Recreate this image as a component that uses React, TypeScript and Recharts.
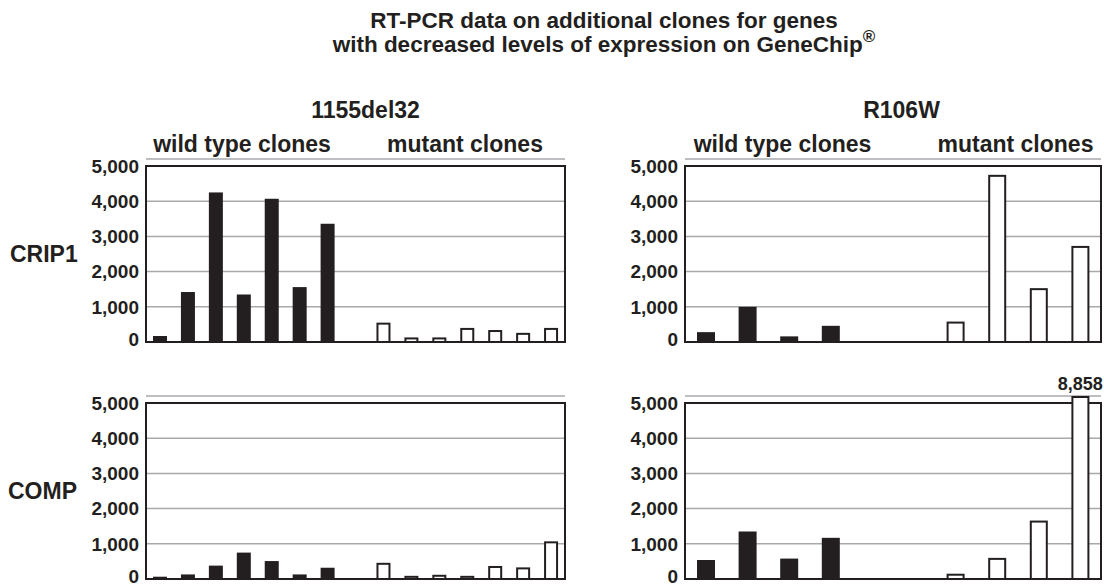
import React from 'react';
import { BarChart, Bar, XAxis, YAxis, CartesianGrid, ReferenceArea, ReferenceDot } from 'recharts';

// ---- data ----
const crip1DelWild = [170, 1420, 4250, 1350, 4070, 1560, 3360];
const crip1DelMutant = [550, 130, 130, 400, 340, 260, 400];
const crip1R106WWild = [280, 1000, 160, 460];
const crip1R106WMutant = [580, 4750, 1530, 2730];
const compDelWild = [65, 130, 380, 750, 510, 130, 320];
const compDelMutant = [460, 90, 120, 90, 370, 330, 1070];
const compR106WWild = [540, 1350, 580, 1170];
const compR106WMutant = [150, 600, 1660, 8858];

const yTicks = [0, 1000, 2000, 3000, 4000, 5000];
const AXIS_MAX = 5000;
const DOMAIN_TOP = 5200;

const INK = '#231f20';
const GRID = '#a7a9ac';
const FONT = '"Liberation Sans", Arial, Helvetica, sans-serif';

type Row = { slot: string; value: number | null; group: string };

function buildRows(wild: number[], mutant: number[], gaps: number): Row[] {
  const rows: Row[] = [];
  wild.forEach((v, i) => rows.push({ slot: 'w' + i, value: v, group: 'wild' }));
  for (let g = 0; g < gaps; g++) rows.push({ slot: 'gap' + g, value: null, group: 'gap' });
  mutant.forEach((v, i) => rows.push({ slot: 'm' + i, value: v, group: 'mutant' }));
  return rows;
}

const fmt = (v: number) => v.toLocaleString('en-US');

const BarShape = (props: any) => {
  const { x, y, width, height, payload, background } = props;
  if (x == null || y == null || !height) return null;
  let top = y;
  let h = height;
  if (background && typeof background.y === 'number' && top < background.y) {
    h -= background.y - top;
    top = background.y;
  }
  if (payload && payload.group === 'mutant') {
    return (
      <rect
        x={x + 1}
        y={top + 1}
        width={Math.max(width - 2, 0)}
        height={Math.max(h - 1, 0)}
        fill="#ffffff"
        stroke={INK}
        strokeWidth={2}
      />
    );
  }
  return <rect x={x} y={top} width={width} height={h} fill={INK} />;
};

const YTick = (props: any) => {
  const { x, y, payload } = props;
  const v = payload?.value as number;
  return (
    <text
      x={x}
      y={y}
      dy={v === 0 ? '0.22em' : '0.355em'}
      textAnchor="end"
      fill={INK}
      fontSize={19}
      fontWeight={700}
      fontFamily={FONT}
    >
      {fmt(v)}
    </text>
  );
};

type PanelProps = {
  rows: Row[];
  left: number;
  top: number;
  width: number;
  yAxisWidth: number;
  barSize: number;
};

const M_TOP = 30;
const M_BOTTOM = 16;
const PLOT_H = 183;

const Panel = ({ rows, left, top, width, yAxisWidth, barSize }: PanelProps) => {
  const overflow = rows.filter((r) => r.value != null && (r.value as number) > AXIS_MAX);
  return (
    <div style={{ position: 'absolute', left, top }}>
      <BarChart
        width={width}
        height={M_TOP + PLOT_H + M_BOTTOM}
        data={rows}
        margin={{ top: M_TOP, right: 3, bottom: M_BOTTOM, left: 0 }}
      >
        <CartesianGrid horizontal vertical={false} stroke={GRID} strokeWidth={1.5} />
        <XAxis dataKey="slot" hide />
        <YAxis
          width={yAxisWidth}
          domain={[0, DOMAIN_TOP]}
          allowDataOverflow
          ticks={yTicks}
          interval={0}
          axisLine={false}
          tickLine={false}
          tickSize={0}
          tickMargin={7}
          tick={<YTick />}
        />
        <ReferenceArea
          y1={0}
          y2={AXIS_MAX}
          fill="none"
          fillOpacity={0}
          stroke={INK}
          strokeWidth={2}
          ifOverflow="visible"
        />
        <Bar dataKey="value" barSize={barSize} isAnimationActive={false} shape={BarShape} />
        {overflow.map((r) => (
          <ReferenceDot
            key={r.slot}
            x={r.slot}
            y={DOMAIN_TOP}
            r={0}
            fill="none"
            stroke="none"
            ifOverflow="visible"
            label={{
              value: fmt(r.value as number),
              position: 'top',
              offset: 6,
              fill: INK,
              fontSize: 18,
              fontWeight: 700,
              fontFamily: FONT,
            }}
          />
        ))}
      </BarChart>
    </div>
  );
};

const textStyle = { fill: INK, fontFamily: FONT, fontWeight: 700 } as const;

export default function App() {
  return (
    <div
      style={{
        position: 'absolute',
        left: 0,
        top: 0,
        width: 1104,
        height: 588,
        background: '#ffffff',
        overflow: 'hidden',
      }}
    >
      <Panel rows={buildRows(crip1DelWild, crip1DelMutant, 1)} left={0} top={159 - M_TOP} width={568} yAxisWidth={146} barSize={14} />
      <Panel rows={buildRows(crip1R106WWild, crip1R106WMutant, 2)} left={560} top={159 - M_TOP} width={544} yAxisWidth={125} barSize={18} />
      <Panel rows={buildRows(compDelWild, compDelMutant, 1)} left={0} top={396 - M_TOP} width={568} yAxisWidth={146} barSize={14} />
      <Panel rows={buildRows(compR106WWild, compR106WMutant, 2)} left={560} top={396 - M_TOP} width={544} yAxisWidth={125} barSize={18} />
      <svg
        width={1104}
        height={588}
        style={{ position: 'absolute', left: 0, top: 0, pointerEvents: 'none' }}
      >
        <text x={604} y={28} textAnchor="middle" fontSize={22.5} {...textStyle}>
          RT-PCR data on additional clones for genes
        </text>
        <text x={604} y={52} textAnchor="middle" fontSize={22.5} {...textStyle}>
          with decreased levels of expression on GeneChip
          <tspan fontSize={17} dy={-10}>®</tspan>
        </text>
        <text x={365.5} y={118} textAnchor="middle" fontSize={23} {...textStyle}>1155del32</text>
        <text x={901.5} y={118} textAnchor="middle" fontSize={23} {...textStyle}>R106W</text>
        <text x={242} y={152} textAnchor="middle" fontSize={23} {...textStyle}>wild type clones</text>
        <text x={465} y={152} textAnchor="middle" fontSize={23} {...textStyle}>mutant clones</text>
        <text x={782.5} y={152} textAnchor="middle" fontSize={23} {...textStyle}>wild type clones</text>
        <text x={1015.5} y={152} textAnchor="middle" fontSize={23} {...textStyle}>mutant clones</text>
        <text x={10} y={262} textAnchor="start" fontSize={23} {...textStyle}>CRIP1</text>
        <text x={8} y={499} textAnchor="start" fontSize={23} {...textStyle}>COMP</text>
      </svg>
    </div>
  );
}
